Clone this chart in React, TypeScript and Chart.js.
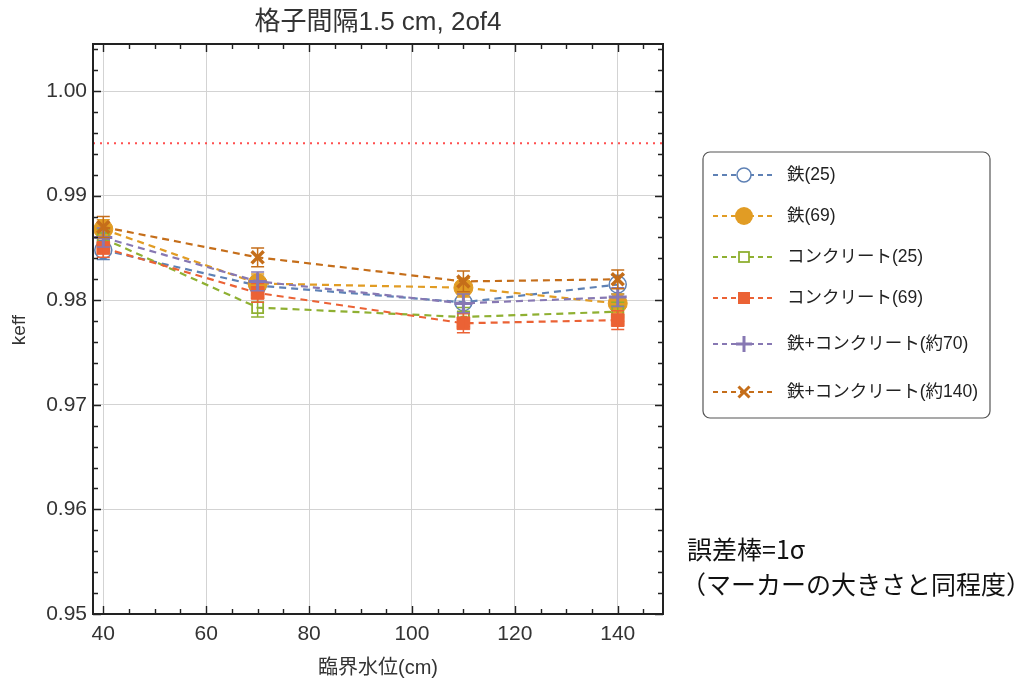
import React, { useEffect, useRef } from "react";
import { Chart, registerables } from "chart.js";

Chart.register(...registerables);

// ---- data ----
const waterLevels = [40, 70, 110, 140];
const iron25 = [0.9848, 0.9814, 0.9798, 0.9815];
const iron69 = [0.9868, 0.9816, 0.9812, 0.9797];
const concrete25 = [0.9859, 0.9793, 0.9784, 0.9789];
const concrete69 = [0.985, 0.9807, 0.9778, 0.9781];
const mix70 = [0.986, 0.9818, 0.9797, 0.9803];
const mix140 = [0.987, 0.9841, 0.9818, 0.982];
const iron25Err = [0.0009, 0.0009, 0.0009, 0.0009];
const iron69Err = [0.0009, 0.0009, 0.0009, 0.0009];
const concrete25Err = [0.0009, 0.0009, 0.0009, 0.0009];
const concrete69Err = [0.0009, 0.0009, 0.0009, 0.0009];
const mix70Err = [0.0009, 0.0009, 0.0009, 0.0009];
const mix140Err = [0.001, 0.0009, 0.001, 0.0009];
const seriesLabels = [
  "鉄(25)",
  "鉄(69)",
  "コンクリート(25)",
  "コンクリート(69)",
  "鉄+コンクリート(約70)",
  "鉄+コンクリート(約140)",
];
const referenceKeff = 0.995;
const xTickValues = [40, 60, 80, 100, 120, 140];
const yTickValues = [0.95, 0.96, 0.97, 0.98, 0.99, 1.0];
const xMin = 38;
const xMax = 148.8;
const yMin = 0.95;
const yMax = 1.0045;
const titleText = "格子間隔1.5 cm, 2of4";
const xAxisTitle = "臨界水位(cm)";
const yAxisTitle = "keff";
const noteLine1 = "誤差棒=1σ";
const noteLine2 = "（マーカーの大きさと同程度）";

const colors = ["#5E81B5", "#E19C24", "#8FB032", "#EB6235", "#8778B3", "#C56E1A"];
const FONT = '"Liberation Sans", "Noto Sans CJK JP", sans-serif';

type MarkerSpec = { style: string; r: number; filled: boolean; width: number };
const plotMarkers: MarkerSpec[] = [
  { style: "circle", r: 8.5, filled: false, width: 1.5 },
  { style: "circle", r: 9.5, filled: true, width: 1 },
  { style: "rect", r: 7.8, filled: false, width: 1.8 },
  { style: "rect", r: 9, filled: true, width: 1 },
  { style: "cross", r: 9, filled: false, width: 3 },
  { style: "crossRot", r: 8.5, filled: false, width: 3.5 },
];

const allValues = [iron25, iron69, concrete25, concrete69, mix70, mix140];
const allErrors = [iron25Err, iron69Err, concrete25Err, concrete69Err, mix70Err, mix140Err];

function drawMarker(ctx: CanvasRenderingContext2D, style: string, x: number, y: number, size: number, color: string, filled: boolean, lw: number) {
  ctx.save();
  ctx.setLineDash([]);
  ctx.strokeStyle = color;
  ctx.fillStyle = color;
  ctx.lineWidth = lw;
  ctx.beginPath();
  if (style === "circle") {
    ctx.arc(x, y, size, 0, Math.PI * 2);
    if (filled) ctx.fill();
    else ctx.stroke();
  } else if (style === "rect") {
    if (filled) ctx.fillRect(x - size, y - size, size * 2, size * 2);
    else ctx.strokeRect(x - size, y - size, size * 2, size * 2);
  } else if (style === "cross") {
    ctx.moveTo(x - size, y);
    ctx.lineTo(x + size, y);
    ctx.moveTo(x, y - size);
    ctx.lineTo(x, y + size);
    ctx.stroke();
  } else {
    ctx.moveTo(x - size, y - size);
    ctx.lineTo(x + size, y + size);
    ctx.moveTo(x + size, y - size);
    ctx.lineTo(x - size, y + size);
    ctx.stroke();
  }
  ctx.restore();
}

const errorBarPlugin = {
  id: "errorBars",
  afterDatasetDraw(chart: any, args: any) {
    const idx = args.index;
    if (idx >= allErrors.length) return;
    const ctx = chart.ctx;
    const xs = chart.scales.x;
    const ys = chart.scales.y;
    ctx.save();
    ctx.strokeStyle = colors[idx];
    ctx.lineWidth = 1.5;
    ctx.setLineDash([]);
    waterLevels.forEach((xv, i) => {
      const px = xs.getPixelForValue(xv);
      const top = ys.getPixelForValue(allValues[idx][i] + allErrors[idx][i]);
      const bot = ys.getPixelForValue(allValues[idx][i] - allErrors[idx][i]);
      ctx.beginPath();
      ctx.moveTo(px, top);
      ctx.lineTo(px, bot);
      ctx.moveTo(px - 6.5, top);
      ctx.lineTo(px + 6.5, top);
      ctx.moveTo(px - 6.5, bot);
      ctx.lineTo(px + 6.5, bot);
      ctx.stroke();
    });
    ctx.restore();
  },
};

const framePlugin = {
  id: "frameAndText",
  afterDraw(chart: any) {
    const ctx: CanvasRenderingContext2D = chart.ctx;
    const { left, right, top, bottom } = chart.chartArea;
    const xs = chart.scales.x;
    const ys = chart.scales.y;
    ctx.save();
    ctx.setLineDash([]);
    ctx.strokeStyle = "#222";
    ctx.lineWidth = 1.4;
    for (let v = 40; v <= xMax; v += 5) {
      const major = xTickValues.includes(v);
      const len = major ? 8 : 5;
      const px = Math.round(xs.getPixelForValue(v)) + 0.5;
      ctx.beginPath();
      ctx.moveTo(px, bottom);
      ctx.lineTo(px, bottom - len);
      ctx.moveTo(px, top);
      ctx.lineTo(px, top + len);
      ctx.stroke();
    }
    for (let k = 0; k <= 27; k++) {
      const v = 0.95 + k * 0.002;
      if (v > yMax) break;
      const major = k % 5 === 0;
      const len = major ? 8 : 5;
      const py = Math.round(ys.getPixelForValue(v)) + 0.5;
      ctx.beginPath();
      ctx.moveTo(left, py);
      ctx.lineTo(left + len, py);
      ctx.moveTo(right, py);
      ctx.lineTo(right - len, py);
      ctx.stroke();
    }
    ctx.lineWidth = 2;
    ctx.strokeRect(left, top, right - left, bottom - top);

    // titles
    ctx.fillStyle = "#333";
    ctx.textAlign = "center";
    ctx.textBaseline = "middle";
    ctx.font = `26px ${FONT}`;
    ctx.fillText(titleText, (left + right) / 2, 23);
    ctx.font = `20px ${FONT}`;
    ctx.fillText(xAxisTitle, (left + right) / 2, 668);
    ctx.save();
    ctx.translate(20, 330);
    ctx.rotate(-Math.PI / 2);
    ctx.font = `19px ${FONT}`;
    ctx.fillText(yAxisTitle, 0, 0);
    ctx.restore();

    // legend
    const bx = 703, by = 152, bw = 287, bh = 266, rr = 7;
    ctx.beginPath();
    ctx.moveTo(bx + rr, by);
    ctx.lineTo(bx + bw - rr, by);
    ctx.arcTo(bx + bw, by, bx + bw, by + rr, rr);
    ctx.lineTo(bx + bw, by + bh - rr);
    ctx.arcTo(bx + bw, by + bh, bx + bw - rr, by + bh, rr);
    ctx.lineTo(bx + rr, by + bh);
    ctx.arcTo(bx, by + bh, bx, by + bh - rr, rr);
    ctx.lineTo(bx, by + rr);
    ctx.arcTo(bx, by, bx + rr, by, rr);
    ctx.closePath();
    ctx.fillStyle = "#fff";
    ctx.fill();
    ctx.strokeStyle = "#555";
    ctx.lineWidth = 1.2;
    ctx.stroke();

    const legendY = [175, 216, 257, 298, 344, 392];
    const legendMarkers: MarkerSpec[] = [
      { style: "circle", r: 7, filled: false, width: 1.5 },
      { style: "circle", r: 9, filled: true, width: 1 },
      { style: "rect", r: 5, filled: false, width: 1.8 },
      { style: "rect", r: 6, filled: true, width: 1 },
      { style: "cross", r: 8, filled: false, width: 3 },
      { style: "crossRot", r: 5.5, filled: false, width: 3 },
    ];
    seriesLabels.forEach((label, i) => {
      const y = legendY[i];
      ctx.save();
      ctx.strokeStyle = colors[i];
      ctx.lineWidth = 2;
      ctx.setLineDash([5, 4]);
      ctx.beginPath();
      ctx.moveTo(713, y);
      ctx.lineTo(775, y);
      ctx.stroke();
      ctx.restore();
      const m = legendMarkers[i];
      if (!m.filled && (m.style === "circle" || m.style === "rect")) {
        ctx.save();
        ctx.fillStyle = "#fff";
        ctx.beginPath();
        if (m.style === "circle") ctx.arc(744, y, m.r, 0, Math.PI * 2);
        else ctx.rect(744 - m.r, y - m.r, m.r * 2, m.r * 2);
        ctx.fill();
        ctx.restore();
      }
      drawMarker(ctx, m.style, 744, y, m.r, colors[i], m.filled, m.width);
      ctx.fillStyle = "#222";
      ctx.textAlign = "left";
      ctx.textBaseline = "middle";
      ctx.font = `17.5px ${FONT}`;
      ctx.fillText(label, 787, y);
    });
    ctx.restore();
  },
};

export default function App() {
  const canvasRef = useRef<HTMLCanvasElement | null>(null);

  useEffect(() => {
    if (!canvasRef.current) return;
    const datasets: any[] = allValues.map((vals, i) => ({
      label: seriesLabels[i],
      data: vals.map((v, j) => ({ x: waterLevels[j], y: v })),
      borderColor: colors[i],
      backgroundColor: colors[i],
      borderWidth: 2.2,
      borderDash: [7, 5],
      pointStyle: plotMarkers[i].style,
      pointRadius: plotMarkers[i].r,
      pointBorderWidth: plotMarkers[i].width,
      pointBorderColor: colors[i],
      pointBackgroundColor: plotMarkers[i].filled ? colors[i] : "rgba(255,255,255,0)",
      tension: 0,
      order: 10 - i,
    }));
    datasets.push({
      label: "ref",
      data: [
        { x: xMin, y: referenceKeff },
        { x: xMax, y: referenceKeff },
      ],
      borderColor: "rgba(255,60,60,0.9)",
      borderWidth: 2,
      borderDash: [2, 5],
      pointRadius: 0,
      order: 100,
    });

    const chart = new Chart(canvasRef.current, {
      type: "line",
      data: { datasets },
      plugins: [errorBarPlugin, framePlugin],
      options: {
        animation: false,
        responsive: false,
        devicePixelRatio: 1,
        layout: { padding: { left: 0, top: 44, right: 360, bottom: 0 } },
        plugins: {
          legend: { display: false },
          tooltip: { enabled: false },
          title: { display: false },
        },
        scales: {
          x: {
            type: "linear",
            min: xMin,
            max: xMax,
            afterBuildTicks: (scale: any) => {
              scale.ticks = xTickValues.map((v) => ({ value: v }));
            },
            afterFit: (scale: any) => {
              scale.height = 67;
            },
            grid: { color: "#d3d3d3", lineWidth: 1, drawTicks: false },
            border: { display: false },
            ticks: {
              padding: 8,
              color: "#333",
              font: { family: FONT, size: 21 },
              maxRotation: 0,
              callback: (v: any) => String(v),
            },
          },
          y: {
            type: "linear",
            min: yMin,
            max: yMax,
            afterBuildTicks: (scale: any) => {
              scale.ticks = yTickValues.map((v) => ({ value: v }));
            },
            afterFit: (scale: any) => {
              scale.width = 93;
            },
            grid: { color: "#d3d3d3", lineWidth: 1, drawTicks: false },
            border: { display: false },
            ticks: {
              padding: 6,
              color: "#333",
              font: { family: FONT, size: 21 },
              callback: (v: any) => Number(v).toFixed(2),
            },
          },
        },
      } as any,
    });
    return () => chart.destroy();
  }, []);

  return (
    <div style={{ position: "absolute", left: 0, top: 0, width: 1023, height: 681, background: "#fff" }}>
      <canvas ref={canvasRef} width={1023} height={681} style={{ width: 1023, height: 681, display: "block" }} />
      <div
        style={{
          position: "absolute",
          left: 687,
          top: 531,
          fontFamily: '"Noto Sans CJK JP", sans-serif',
          fontSize: 25,
          lineHeight: "35px",
          color: "#111",
          whiteSpace: "nowrap",
        }}
      >
        <div>{noteLine1}</div>
        <div style={{ marginLeft: -6 }}>{noteLine2}</div>
      </div>
    </div>
  );
}
